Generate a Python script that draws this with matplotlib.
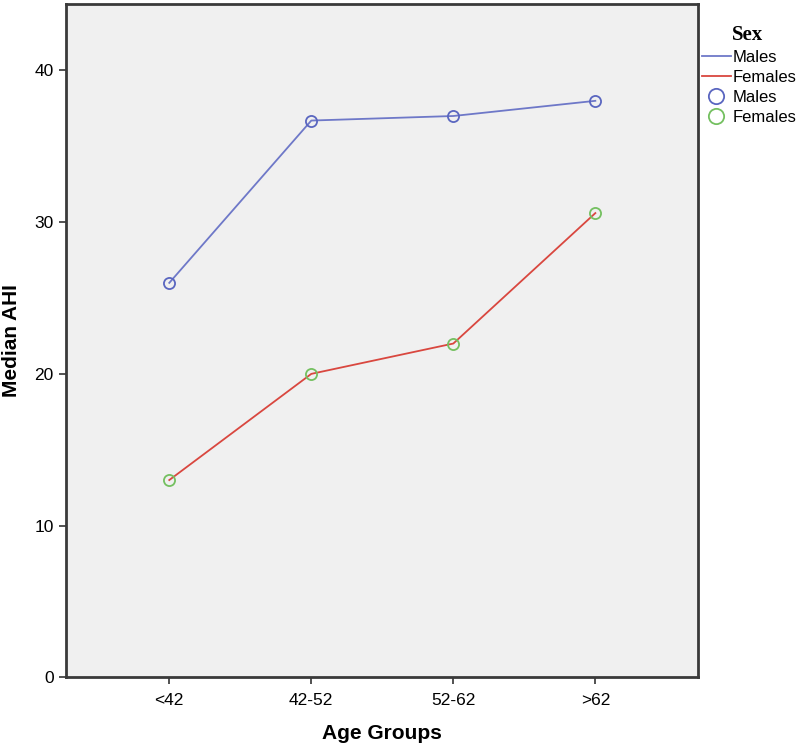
import matplotlib
matplotlib.use("Agg")
import matplotlib.pyplot as plt
from matplotlib.lines import Line2D

plt.rcParams['font.family'] = ['Liberation Sans', 'DejaVu Sans']

age_groups = ['<42', '42-52', '52-62', '>62']
males = [26.0, 36.7, 37.0, 38.0]
females = [13.0, 20.0, 22.0, 30.6]

male_line = '#6e78c8'
female_line = '#d9473f'
male_marker = '#5a66c0'
female_marker = '#74c060'

fig = plt.figure(figsize=(8, 7.5), dpi=100)
ax = fig.add_axes([0.082, 0.097, 0.79, 0.898])
ax.set_facecolor('#f0f0f0')

x = list(range(len(age_groups)))
ax.plot(x, males, color=male_line, lw=1.3, zorder=2)
ax.plot(x, females, color=female_line, lw=1.3, zorder=2)
ax.plot(x, males, 'o', ms=8, mfc='none', mec=male_marker, mew=1.3, zorder=3)
ax.plot(x, females, 'o', ms=8, mfc='none', mec=female_marker, mew=1.3, zorder=3)

ax.set_xlim(-0.73, 3.72)
ax.set_ylim(0, 44.4)
ax.set_xticks(x)
ax.set_xticklabels(age_groups)
ax.set_yticks([0, 10, 20, 30, 40])
ax.tick_params(axis='both', direction='out', length=5, width=1.2, colors='#333333',
               labelsize=12.5, labelcolor='black')
ax.tick_params(axis='x', pad=6)

for s in ax.spines.values():
    s.set_color('#3a3a3a')
    s.set_linewidth(2)

ax.set_xlabel('Age Groups', fontsize=15, fontweight='bold', labelpad=12)
ax.set_ylabel('Median AHI', fontsize=15, fontweight='bold', labelpad=10)

# legend (title drawn separately so spacing matches)
fig.text(0.935, 0.953, 'Sex', ha='center', va='center', fontsize=15,
         fontweight='bold', family='Liberation Serif')
handles = [
    Line2D([], [], color=male_line, lw=1.3),
    Line2D([], [], color=female_line, lw=1.3),
    Line2D([], [], ls='none', marker='o', ms=11, mfc='none', mec=male_marker, mew=1.3),
    Line2D([], [], ls='none', marker='o', ms=11, mfc='none', mec=female_marker, mew=1.3),
]
fig.legend(handles, ['Males', 'Females', 'Males', 'Females'],
           loc='upper left', bbox_to_anchor=(0.877, 0.934),
           frameon=False, fontsize=12,
           handlelength=1.75, handletextpad=0.1, labelspacing=0.3,
           borderaxespad=0, borderpad=0)

fig.savefig('out.png', dpi=100)
